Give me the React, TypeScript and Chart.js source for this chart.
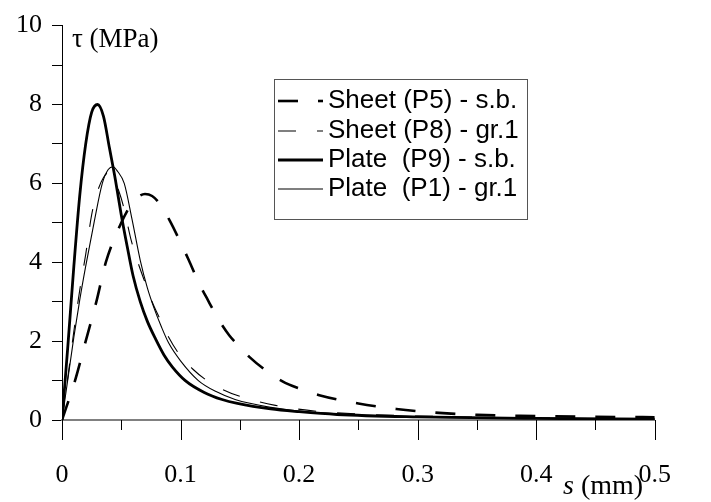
import React, { useEffect, useRef } from "react";
import { Chart, registerables } from "chart.js";

Chart.register(...registerables);

// ---- Data ----
const seriesLabels = [
  "Sheet (P5) - s.b.",
  "Sheet (P8) - gr.1",
  "Plate  (P9) - s.b.",
  "Plate  (P1) - gr.1",
];

const p5S = [0, 0.011, 0.02, 0.029, 0.037, 0.05, 0.058, 0.064, 0.07, 0.076, 0.082, 0.091, 0.1, 0.107, 0.115, 0.122, 0.132, 0.141, 0.15, 0.158, 0.17, 0.186, 0.2, 0.217, 0.25, 0.282, 0.318, 0.35, 0.4, 0.45, 0.5];
const p5T = [0, 1.0, 2.0, 3.0, 4.0, 5.0, 5.45, 5.65, 5.73, 5.68, 5.5, 5.05, 4.5, 4.05, 3.5, 3.1, 2.55, 2.15, 1.85, 1.6, 1.3, 0.98, 0.8, 0.63, 0.42, 0.28, 0.18, 0.13, 0.1, 0.08, 0.07];

const p8S = [0, 0.005, 0.01, 0.015, 0.02, 0.025, 0.03, 0.035, 0.039, 0.043, 0.048, 0.052, 0.058, 0.064, 0.0705, 0.076, 0.082, 0.09, 0.1, 0.11, 0.12, 0.135, 0.15, 0.18, 0.215, 0.26, 0.3, 0.4, 0.5];
const p8T = [0, 1.1, 2.25, 3.3, 4.2, 5.2, 5.8, 6.15, 6.27, 6.15, 5.8, 5.4, 4.6, 4.0, 3.45, 3.0, 2.6, 2.1, 1.62, 1.3, 1.05, 0.78, 0.6, 0.37, 0.22, 0.14, 0.1, 0.05, 0.03];

const p9S = [0, 0.005, 0.01, 0.015, 0.02, 0.025, 0.03, 0.035, 0.04, 0.045, 0.05, 0.055, 0.06, 0.066, 0.072, 0.079, 0.086, 0.093, 0.104, 0.12, 0.135, 0.148, 0.176, 0.2, 0.232, 0.3, 0.4, 0.5];
const p9T = [0, 1.9, 3.9, 5.7, 7.0, 7.8, 8.0, 7.7, 6.9, 6.1, 5.2, 4.4, 3.65, 3.0, 2.5, 2.05, 1.65, 1.35, 1.0, 0.7, 0.52, 0.42, 0.28, 0.21, 0.14, 0.08, 0.04, 0.02];

const p1S = [0, 0.005, 0.01, 0.015, 0.02, 0.027, 0.034, 0.039, 0.043, 0.047, 0.0525, 0.059, 0.066, 0.072, 0.0775, 0.084, 0.09, 0.1, 0.115, 0.13, 0.146, 0.176, 0.2, 0.232, 0.3, 0.4, 0.5];
const p1T = [0, 1.05, 2.1, 3.05, 3.9, 5.0, 6.0, 6.35, 6.42, 6.3, 6.0, 5.1, 4.05, 3.35, 2.85, 2.35, 1.95, 1.5, 1.0, 0.72, 0.52, 0.32, 0.23, 0.16, 0.08, 0.04, 0.02];

const xMajorTicks = [0, 0.1, 0.2, 0.3, 0.4, 0.5];
const xMinorTicks = [0.05, 0.15, 0.25, 0.35, 0.45];
const yTickLabels = ["0", "2", "4", "6", "8", "10"];

const yTitle = "\u03c4 (MPa)";
const xTitleVar = "s";
const xTitleUnit = " (mm)";

const SERIF = '"Liberation Serif", "Times New Roman", serif';
const SANS = '"Liberation Sans", Arial, sans-serif';

function pts(s: number[], t: number[]) {
  return s.map((x, i) => ({ x, y: t[i] }));
}

const overlayPlugin = {
  id: "overlay",
  afterDraw(chart: any) {
    const ctx = chart.ctx as CanvasRenderingContext2D;
    const xs = chart.scales.x;
    const area = chart.chartArea;
    ctx.save();
    // x ticks
    ctx.strokeStyle = "#000";
    ctx.lineWidth = 1;
    const drawTick = (v: number, len: number) => {
      const px = Math.round(xs.getPixelForValue(v)) + 0.5;
      ctx.beginPath();
      ctx.moveTo(px, area.bottom);
      ctx.lineTo(px, area.bottom + len);
      ctx.stroke();
    };
    xMajorTicks.forEach((v) => drawTick(v, 20));
    xMinorTicks.forEach((v) => drawTick(v, 10));

    // axis titles
    ctx.fillStyle = "#000";
    ctx.font = `27px ${SERIF}`;
    ctx.textAlign = "left";
    ctx.textBaseline = "middle";
    ctx.fillText(yTitle, area.left + 10, 40);

    ctx.textBaseline = "alphabetic";
    ctx.font = `italic 28px ${SERIF}`;
    const sx = 563;
    ctx.fillText(xTitleVar, sx, 494);
    const w = ctx.measureText(xTitleVar).width;
    ctx.font = `28px ${SERIF}`;
    ctx.fillText(xTitleUnit, sx + w, 494);

    // legend
    const bx = 274.5, by = 79.5, bw = 253, bh = 140;
    ctx.fillStyle = "#fff";
    ctx.fillRect(bx, by, bw, bh);
    ctx.strokeStyle = "#555";
    ctx.lineWidth = 1;
    ctx.strokeRect(bx, by, bw, bh);
    const rows = [101, 131, 160, 189];
    chart.data.datasets.forEach((ds: any, i: number) => {
      const y = rows[i];
      ctx.save();
      ctx.strokeStyle = ds.borderColor;
      ctx.lineWidth = ds.borderWidth;
      ctx.setLineDash(ds.borderDash || []);
      ctx.beginPath();
      ctx.moveTo(278, y);
      ctx.lineTo(323, y);
      ctx.stroke();
      ctx.restore();
      ctx.fillStyle = "#000";
      ctx.font = `26px ${SANS}`;
      ctx.textAlign = "left";
      ctx.textBaseline = "middle";
      ctx.fillText(ds.label, 328, y);
    });
    ctx.restore();
  },
};

export default function App() {
  const ref = useRef<HTMLCanvasElement | null>(null);
  useEffect(() => {
    if (!ref.current) return;
    const chart = new Chart(ref.current, {
      type: "line",
      data: {
        datasets: [
          {
            label: seriesLabels[0],
            data: pts(p5S, p5T),
            borderColor: "#000",
            borderWidth: 2.6,
            borderDash: [20, 20],
          },
          {
            label: seriesLabels[1],
            data: pts(p8S, p8T),
            borderColor: "#000",
            borderWidth: 1.1,
            borderDash: [18, 21],
          },
          {
            label: seriesLabels[2],
            data: pts(p9S, p9T),
            borderColor: "#000",
            borderWidth: 2.8,
          },
          {
            label: seriesLabels[3],
            data: pts(p1S, p1T),
            borderColor: "#000",
            borderWidth: 1.1,
          },
        ] as any,
      },
      options: {
        animation: false,
        responsive: false,
        maintainAspectRatio: false,
        layout: { padding: { top: 20, right: 49, left: 0, bottom: 0 } },
        elements: {
          point: { radius: 0 },
          line: { cubicInterpolationMode: "monotone", fill: false },
        },
        plugins: {
          legend: { display: false },
          tooltip: { enabled: false },
        },
        scales: {
          x: {
            type: "linear",
            min: 0,
            max: 0.5,
            afterFit: (s: any) => {
              s.height = 82;
            },
            afterBuildTicks: (s: any) => {
              s.ticks = xMajorTicks.map((v) => ({ value: v }));
            },
            grid: { display: false, drawTicks: false },
            border: { display: true, color: "#808080", width: 2 },
            ticks: {
              padding: 40,
              color: "#000",
              font: { family: SERIF, size: 26 },
              maxRotation: 0,
              autoSkip: false,
              callback: (v: any) => String(Number(Number(v).toFixed(2))),
            },
          },
          y: {
            type: "linear",
            min: 0,
            max: 10,
            afterFit: (s: any) => {
              s.width = 62;
            },
            grid: {
              display: true,
              drawOnChartArea: false,
              drawTicks: true,
              tickLength: 10,
              tickColor: "#000",
              tickWidth: 1,
            },
            border: { display: true, color: "#000", width: 1 },
            ticks: {
              stepSize: 1,
              padding: 10,
              color: "#000",
              font: { family: SERIF, size: 26 },
              autoSkip: false,
              callback: (v: any) => {
                const n = Number(v);
                return n % 2 === 0 ? yTickLabels[n / 2] : "";
              },
            },
          },
        },
      },
      plugins: [overlayPlugin],
    } as any);
    return () => chart.destroy();
  }, []);
  return (
    <div style={{ position: "fixed", left: 0, top: 0, width: 711, height: 502, background: "#fff" }}>
      <canvas ref={ref} width={711} height={502} style={{ display: "block" }} />
    </div>
  );
}
